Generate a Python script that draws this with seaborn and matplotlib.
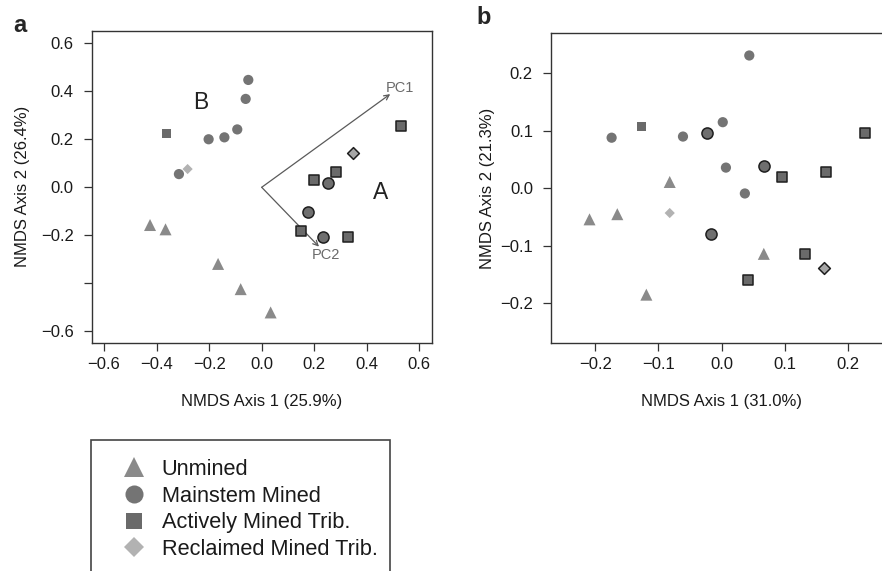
import matplotlib
matplotlib.use("Agg")
import matplotlib.pyplot as plt
from matplotlib.lines import Line2D
from matplotlib.patches import Rectangle
import numpy as np
import pandas as pd
import seaborn as sns

sns.set_style("ticks")
plt.rcParams['font.family'] = ['Liberation Sans', 'DejaVu Sans']

# ---------------- data ----------------
site_types = ["Unmined", "Mainstem Mined", "Actively Mined Trib.", "Reclaimed Mined Trib."]

# Panel a
a_unmined_x = [-0.425, -0.366, -0.166, -0.080, 0.034]
a_unmined_y = [-0.157, -0.175, -0.319, -0.424, -0.521]
a_unmined_A = [0, 0, 0, 0, 0]
a_mainstem_x = [-0.051, -0.061, -0.093, -0.142, -0.202, -0.315, 0.253, 0.175, 0.234]
a_mainstem_y = [0.447, 0.368, 0.241, 0.208, 0.200, 0.055, 0.017, -0.101, -0.207]
a_mainstem_A = [0, 0, 0, 0, 0, 0, 1, 1, 1]
a_active_x = [-0.363, 0.531, 0.284, 0.198, 0.149, 0.328]
a_active_y = [0.222, 0.257, 0.064, 0.029, -0.183, -0.208]
a_active_A = [0, 1, 1, 1, 1, 1]
a_reclaimed_x = [-0.282, 0.347]
a_reclaimed_y = [0.076, 0.144]
a_reclaimed_A = [0, 1]

pc_names = ["PC1", "PC2"]
pc_x = [0.489, 0.218]
pc_y = [0.388, -0.247]

# Panel b
b_unmined_x = [-0.209, -0.165, -0.082, -0.119, 0.067]
b_unmined_y = [-0.054, -0.045, 0.011, -0.185, -0.114]
b_unmined_A = [0, 0, 0, 0, 0]
b_mainstem_x = [0.044, -0.174, -0.061, 0.002, 0.007, 0.037, -0.023, 0.067, -0.017]
b_mainstem_y = [0.231, 0.088, 0.090, 0.115, 0.036, -0.009, 0.096, 0.039, -0.079]
b_mainstem_A = [0, 0, 0, 0, 0, 0, 1, 1, 1]
b_active_x = [-0.126, 0.228, 0.096, 0.165, 0.132, 0.042]
b_active_y = [0.108, 0.097, 0.019, 0.028, -0.114, -0.159]
b_active_A = [0, 1, 1, 1, 1, 1]
b_reclaimed_x = [-0.082, 0.162]
b_reclaimed_y = [-0.043, -0.139]
b_reclaimed_A = [0, 1]

a_ticks_x = [-0.6, -0.4, -0.2, 0.0, 0.2, 0.4, 0.6]
a_ticks_y = [-0.6, -0.4, -0.2, 0.0, 0.2, 0.4, 0.6]
a_ticklabels_y = ["\u22120.6", "", "\u22120.2", "0.0", "0.2", "0.4", "0.6"]
b_ticks_x = [-0.2, -0.1, 0.0, 0.1, 0.2]
b_ticks_y = [-0.2, -0.1, 0.0, 0.1, 0.2]


def make_df(groups):
    rows = []
    for t, xs, ys, fl in groups:
        for x, y, f in zip(xs, ys, fl):
            rows.append({"x": x, "y": y, "type": t, "A": f})
    return pd.DataFrame(rows)


df_a = make_df([(site_types[0], a_unmined_x, a_unmined_y, a_unmined_A),
                (site_types[1], a_mainstem_x, a_mainstem_y, a_mainstem_A),
                (site_types[2], a_active_x, a_active_y, a_active_A),
                (site_types[3], a_reclaimed_x, a_reclaimed_y, a_reclaimed_A)])
df_b = make_df([(site_types[0], b_unmined_x, b_unmined_y, b_unmined_A),
                (site_types[1], b_mainstem_x, b_mainstem_y, b_mainstem_A),
                (site_types[2], b_active_x, b_active_y, b_active_A),
                (site_types[3], b_reclaimed_x, b_reclaimed_y, b_reclaimed_A)])

# ---------------- styles ----------------
markers = {site_types[0]: "^", site_types[1]: "o", site_types[2]: "s", site_types[3]: "D"}
fills = {site_types[0]: "#8a8a8a", site_types[1]: "#747474", site_types[2]: "#6a6a6a", site_types[3]: "#b2b2b2"}
fills_out = {site_types[0]: "#8a8a8a", site_types[1]: "#6f6f6f", site_types[2]: "#6a6a6a", site_types[3]: "#a6a6a6"}
sizes = {site_types[0]: 75, site_types[1]: 54, site_types[2]: 42, site_types[3]: 27}
sizes_out = {site_types[0]: 75, site_types[1]: 64, site_types[2]: 52, site_types[3]: 36}
edge_dark = "#1e1e1e"
spine_col = "#333333"

fig = plt.figure(figsize=(8.82, 5.71), dpi=100)
W, H = 882.0, 571.0
axa = fig.add_axes([91.7 / W, 1 - 342.7 / H, 340 / W, 312 / H])
axb = fig.add_axes([551 / W, 1 - 343.3 / H, 341 / W, 310 / H])


def draw_points(ax, df):
    for t in site_types:
        for f in (0, 1):
            sub = df[(df["type"] == t) & (df["A"] == f)]
            if sub.empty:
                continue
            if f:
                sns.scatterplot(data=sub, x="x", y="y", ax=ax, marker=markers[t],
                                color=fills_out[t], s=sizes_out[t],
                                edgecolor=edge_dark, linewidth=1.1, legend=False, zorder=3)
            else:
                sns.scatterplot(data=sub, x="x", y="y", ax=ax, marker=markers[t],
                                color=fills[t], s=sizes[t],
                                edgecolor="none", linewidth=0, legend=False, zorder=3)


def style_axis(ax):
    for sp in ax.spines.values():
        sp.set_visible(True)
        sp.set_color(spine_col)
        sp.set_linewidth(1.0)
    ax.tick_params(axis="both", direction="out", length=5.5, width=0.9,
                   color=spine_col, labelsize=12, labelcolor="#1a1a1a")
    ax.tick_params(axis="x", pad=4.5)
    ax.tick_params(axis="y", pad=7.5)


draw_points(axa, df_a)
draw_points(axb, df_b)

# PC arrows in panel a
for name, px, py in zip(pc_names, pc_x, pc_y):
    axa.annotate("", xy=(px, py), xytext=(0, 0),
                 arrowprops=dict(arrowstyle="->", color="#5a5a5a", lw=0.9,
                                 mutation_scale=9, shrinkA=0, shrinkB=0), zorder=2)
axa.text(pc_x[0] + 0.037, pc_y[0] + 0.025, pc_names[0], fontsize=10.5, color="#6a6a6a",
         ha="center", va="center")
axa.text(pc_x[1] + 0.025, pc_y[1] - 0.035, pc_names[1], fontsize=10.5, color="#6a6a6a",
         ha="center", va="center")

axa.text(-0.232, 0.352, "B", fontsize=16.5, color="#222222", ha="center", va="center")
axa.text(0.451, -0.022, "A", fontsize=16.5, color="#222222", ha="center", va="center")

axa.set_xlim(-0.647, 0.647)
axa.set_ylim(-0.647, 0.652)
axa.set_xticks(a_ticks_x)
axa.set_xticklabels(["\u22120.6", "\u22120.4", "\u22120.2", "0.0", "0.2", "0.4", "0.6"])
axa.set_yticks(a_ticks_y)
axa.set_yticklabels(a_ticklabels_y)
axa.set_xlabel("NMDS Axis 1 (25.9%)", fontsize=12, labelpad=16, color="#1a1a1a")
axa.set_ylabel("NMDS Axis 2 (26.4%)", fontsize=12, labelpad=8, color="#1a1a1a")
style_axis(axa)

axb.set_xlim(-0.27, 0.27)
axb.set_ylim(-0.2696, 0.2696)
axb.set_xticks(b_ticks_x)
axb.set_xticklabels(["\u22120.2", "\u22120.1", "0.0", "0.1", "0.2"])
axb.set_yticks(b_ticks_y)
axb.set_yticklabels(["\u22120.2", "\u22120.1", "0.0", "0.1", "0.2"])
axb.set_xlabel("NMDS Axis 1 (31.0%)", fontsize=12, labelpad=16, color="#1a1a1a")
axb.set_ylabel("NMDS Axis 2 (21.3%)", fontsize=12, labelpad=4, color="#1a1a1a")
style_axis(axb)

# panel letters
fig.text(20 / W, 1 - 25 / H, "a", fontsize=17, fontweight="bold", ha="center", va="center")
fig.text(484 / W, 1 - 18 / H, "b", fontsize=17, fontweight="bold", ha="center", va="center")

# legend
leg_ms = {site_types[0]: 14.4, site_types[1]: 13.0, site_types[2]: 12.2, site_types[3]: 9.7}
handles = [Line2D([], [], marker=markers[t], linestyle="", markersize=leg_ms[t],
                  markerfacecolor=fills[t], markeredgewidth=0) for t in site_types]
fig.legend(handles, site_types, loc="upper left",
           bbox_to_anchor=(123 / W, 1 - 459 / H), bbox_transform=fig.transFigure,
           frameon=False, fontsize=15.7, handlelength=1.0, handletextpad=0.78,
           labelspacing=0.26, borderpad=0, borderaxespad=0, labelcolor="#1a1a1a")
fig.add_artist(Rectangle((91 / W, 1 - 590 / H), (390 - 91) / W, (590 - 440) / H,
                         transform=fig.transFigure, fill=False, edgecolor="#444444", lw=1.2))

fig.savefig("out.png", dpi=100)
